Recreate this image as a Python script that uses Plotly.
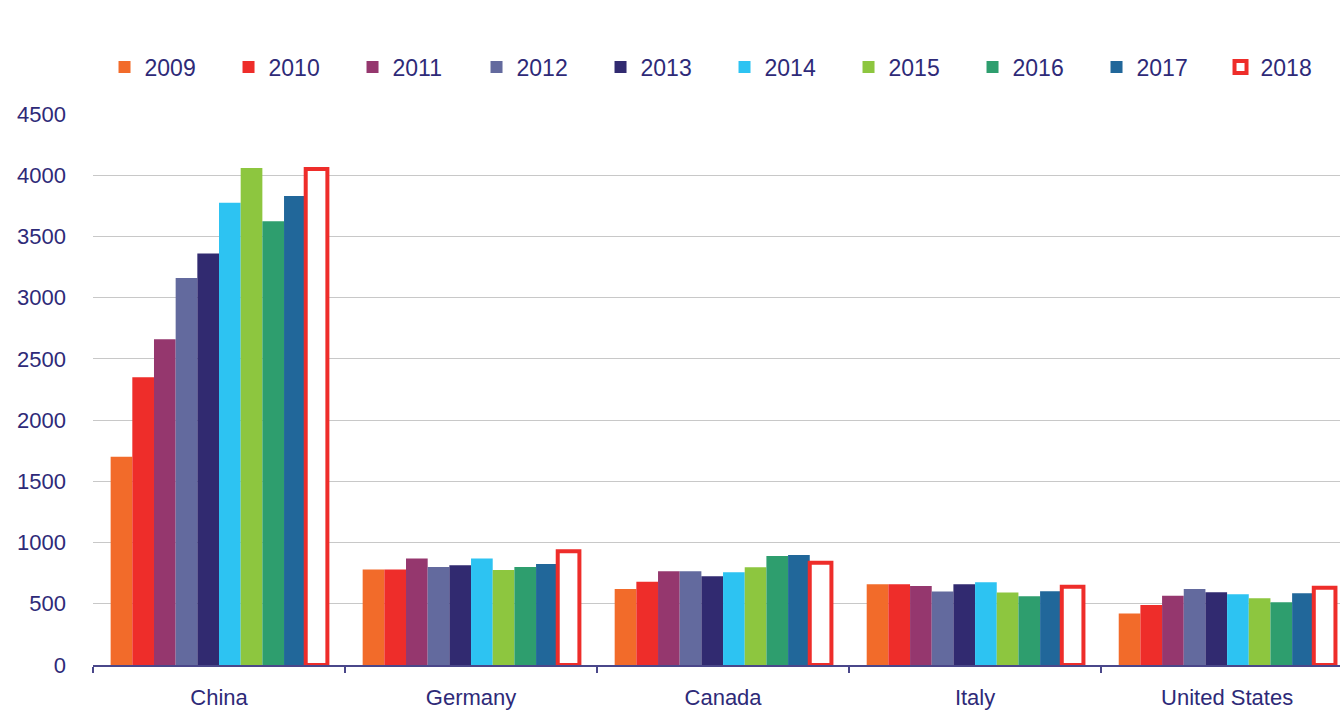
import plotly.graph_objects as go

countries = ["China", "Germany", "Canada", "Italy", "United States"]
years = ["2009", "2010", "2011", "2012", "2013", "2014", "2015", "2016", "2017", "2018"]

v2009 = [1700, 780, 620, 660, 420]
v2010 = [2350, 780, 680, 660, 490]
v2011 = [2660, 870, 765, 645, 565]
v2012 = [3160, 800, 765, 600, 620]
v2013 = [3360, 815, 725, 660, 595]
v2014 = [3775, 870, 757, 675, 578]
v2015 = [4060, 775, 798, 592, 545]
v2016 = [3625, 800, 890, 562, 512]
v2017 = [3830, 825, 898, 602, 586]
v2018 = [4050, 930, 835, 640, 630]

values = [v2009, v2010, v2011, v2012, v2013, v2014, v2015, v2016, v2017, v2018]
colors = ["#F26B2A", "#EE2D2A", "#95376E", "#636A9E", "#312A70",
          "#2DC3F2", "#8DC63F", "#2E9E6E", "#21679A", "#FFFFFF"]

NAVY = "#2E2A78"
FONT = "Liberation Sans, Arial, sans-serif"

fig = go.Figure()
for i, y in enumerate(years):
    if y == "2018":
        marker = dict(color="#FFFFFF", line=dict(color="#EE2D2A", width=4))
    else:
        marker = dict(color=colors[i], line=dict(width=0))
    fig.add_trace(go.Bar(name=y, x=countries, y=values[i], marker=marker))

fig.update_layout(
    width=1340, height=714,
    margin=dict(l=93, r=0, t=114, b=49, autoexpand=False),
    paper_bgcolor="white", plot_bgcolor="white",
    barmode="group", bargap=0.14, bargroupgap=0,
    font=dict(family=FONT, color=NAVY, size=22),
    showlegend=True,
    legend=dict(orientation="h", xref="container", x=0.078, xanchor="left",
                yref="container", y=1 - 67 / 714, yanchor="middle",
                font=dict(size=23, color=NAVY, family=FONT),
                entrywidth=79, entrywidthmode="pixels", traceorder="normal",
                bgcolor="rgba(0,0,0,0)"),
    xaxis=dict(range=[-0.5, 4.448], showgrid=False, showline=True, linecolor="#4A478A",
               linewidth=1.5, ticks="outside", tickson="boundaries", ticklen=6,
               tickcolor="#4A478A", tickwidth=1.5,
               tickfont=dict(size=22, color=NAVY, family=FONT), ticklabelstandoff=12),
    yaxis=dict(range=[0, 4500], tickvals=[0, 500, 1000, 1500, 2000, 2500, 3000, 3500, 4000, 4500],
               showgrid=True, gridcolor="#C8C8C8", gridwidth=1, zeroline=False, showline=False,
               tickfont=dict(size=22, color=NAVY, family=FONT), ticklabelstandoff=26),
)

fig.write_html("out.html", post_script="document.body.style.margin='0';",
               config={"displayModeBar": False})
